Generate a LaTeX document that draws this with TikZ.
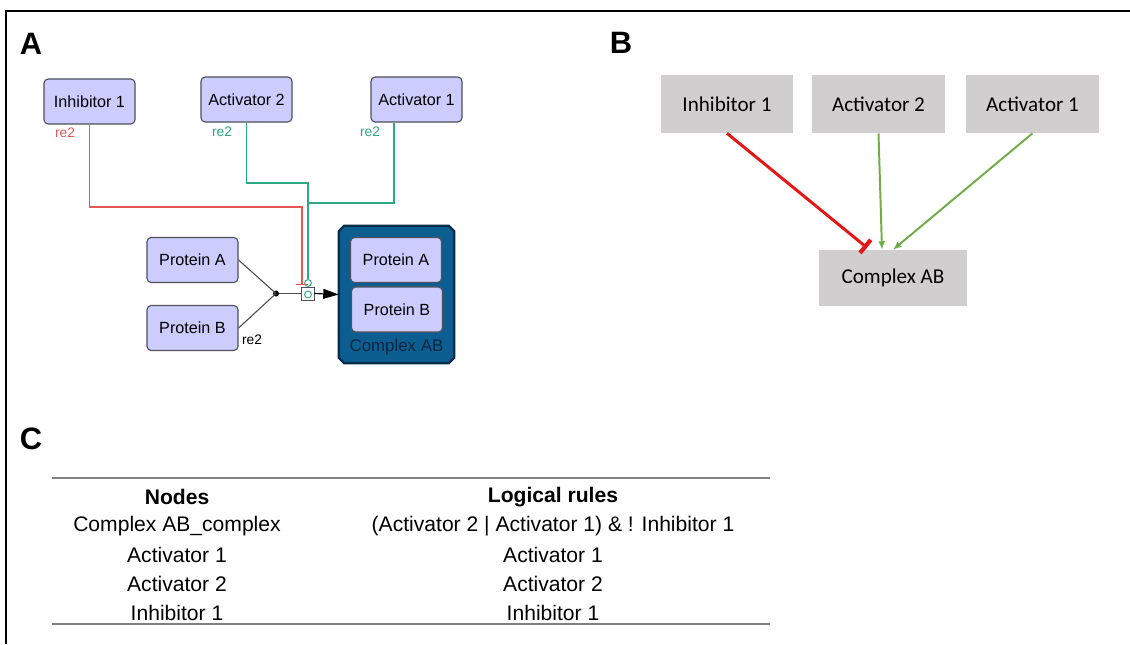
\documentclass[tikz,border=0pt]{standalone}
\usepackage{fontspec}
\setmainfont{Liberation Sans}
\newfontfamily\calibrifont{Carlito}
\usetikzlibrary{arrows.meta,positioning}
\definecolor{SpeciesFill}{RGB}{204,204,255}
\definecolor{SpeciesLine}{RGB}{80,80,92}
\definecolor{ComplexFill}{RGB}{12,94,145}
\definecolor{ComplexLine}{RGB}{6,44,74}
\definecolor{ComplexText}{RGB}{10,38,66}
\definecolor{InhRed}{RGB}{226,86,86}
\definecolor{ActTeal}{RGB}{44,168,130}
\definecolor{BoxGray}{RGB}{208,206,206}
\definecolor{EdgeRed}{RGB}{228,22,22}
\definecolor{EdgeGreen}{RGB}{112,173,71}
\definecolor{RuleGray}{RGB}{128,128,128}
\tikzset{
  species/.style={draw=SpeciesLine,fill=SpeciesFill,rounded corners=3pt,
    line width=0.8pt,minimum width=2.275cm,minimum height=1.125cm,
    inner sep=0pt,font=\fontsize{11.5}{13}\selectfont},
  complexbox/.style={inner sep=0pt,minimum width=2.875cm,minimum height=3.425cm},
  complexshape/.style={draw=ComplexLine,fill=ComplexFill,line width=1.6pt},
  relabel/.style={font=\fontsize{9.8}{11}\selectfont,inner sep=0pt},
  inhline/.style={InhRed,line width=0.8pt},
  actline/.style={ActTeal,line width=0.8pt},
  modcircle/.style={circle,draw=ActTeal,line width=0.7pt,inner sep=0pt,
    minimum size=0.17cm},
  graybox/.style={fill=BoxGray,minimum width=3.3cm,minimum height=1.45cm,
    inner sep=0pt,font=\calibrifont\fontsize{15}{18}\selectfont},
  inhedge/.style={EdgeRed,line width=2.1pt,-{Bar[width=12pt,line width=3pt]}},
  actedge/.style={EdgeGreen,line width=1.4pt,-{Latex[length=6pt,width=5pt]}},
  panel/.style={font=\fontsize{22}{24}\selectfont\bfseries,inner sep=0pt},
  tabtext/.style={font=\fontsize{15}{17}\selectfont,inner sep=0pt},
  tablerule/.style={RuleGray,line width=1.4pt}
}

\begin{document}
\begin{tikzpicture}[x=0.025cm,y=-0.025cm]
  \useasboundingbox (0,0) rectangle (1130,644);
  \coordinate (frameb) at (6,644);
  \coordinate (framec) at (6,11);
  \coordinate (framer) at (1130,11);
  \draw[line width=2.1pt] (frameb) -- (framec) -- (framer);

  % panel A
  \node[panel] (labA) at (31,44) {A};
  \node[species] (inh1) at (89.5,101.5) {Inhibitor 1};
  \node[species] (act2) at (246.5,99.5) {Activator 2};
  \node[species] (act1) at (416.5,99.5) {Activator 1};
  \node[relabel,InhRed] (re2i) at (65,133) {re2};
  \node[relabel,ActTeal] (re2a2) at (222,132) {re2};
  \node[relabel,ActTeal] (re2a1) at (370,132) {re2};

  \node[species] (protA) at (192.5,260) {Protein A};
  \node[species] (protB) at (192.5,328) {Protein B};
  \node[relabel] (re2b) at (252,340) {re2};

  \node[complexbox] (cab) at (396.5,294.5) {};
  \draw[complexshape] ([xshift=4pt]cab.north west) -- ([xshift=-4pt]cab.north east)
    -- ([yshift=-4pt]cab.north east) -- ([yshift=4pt]cab.south east)
    -- ([xshift=-4pt]cab.south east) -- ([xshift=4pt]cab.south west)
    -- ([yshift=4pt]cab.south west) -- ([yshift=-4pt]cab.north west) -- cycle;
  \node[species] (cabA) at (396,260) {Protein A};
  \node[species] (cabB) at (397,309.5) {Protein B};
  \node[font=\fontsize{12}{14}\selectfont,text=ComplexText,inner sep=0pt]
    (cabname) at (396.5,347) {Complex AB};

  \node[circle,fill=black,inner sep=0pt,minimum size=0.15cm] (join) at (276,293.5) {};
  \node[draw=SpeciesLine,fill=white,line width=0.7pt,inner sep=0pt,
        minimum size=0.325cm] (proc) at (307.5,293.5) {};
  \node[modcircle] (catin) at (308,294.5) {};
  \node[modcircle,fill=white] (catup) at (308,283) {};

  \draw[line width=0.8pt,SpeciesLine] (protA.east) -- (join.center);
  \draw[line width=0.8pt,SpeciesLine] (protB.east) -- (join.center);
  \draw[line width=0.8pt,SpeciesLine] (join) -- (proc.west);
  \draw[line width=0.8pt,-{Triangle[length=11pt,width=7pt]}] (proc.east) -- (cab.west);

  \coordinate (redturn) at (302,207);
  \coordinate (bar) at (302,285);
  \draw[inhline,-{Bar[width=8pt,line width=0.8pt]}] (inh1.south) |- (redturn) -- (bar);

  \coordinate (a2turn) at (308,183);
  \coordinate (a1turn) at (308,203);
  \draw[actline] (act2.south) |- (a2turn) -- (catup.north);
  \draw[actline] ([xshift=-0.5625cm]act1.south) |- (a1turn);

  % panel B
  \node[panel] (labB) at (621,43) {B};
  \node[graybox] (inh1B) at (727,104) {Inhibitor 1};
  \node[graybox] (act2B) at (878.5,104) {Activator 2};
  \node[graybox] (act1B) at (1032.5,104) {Activator 1};
  \node[graybox,minimum width=3.7cm,minimum height=1.4cm] (cabB) at (893,278) {Complex AB};

  \draw[inhedge] (inh1B.south) -- ([xshift=-0.65cm,yshift=0.05cm]cabB.north);
  \draw[actedge] (act2B.south) -- ([xshift=-0.275cm]cabB.north);
  \draw[actedge] (act1B.south) -- (cabB.north);

  % panel C
  \node[panel] (labC) at (31,439) {C};
  \coordinate (ruletl) at (52,478);
  \coordinate (ruletr) at (770,478);
  \coordinate (rulebl) at (52,624);
  \coordinate (rulebr) at (770,624);
  \draw[tablerule] (ruletl) -- (ruletr);
  \draw[tablerule] (rulebl) -- (rulebr);

  \node[tabtext,font=\fontsize{15}{17}\selectfont\bfseries] (headN) at (177,497) {Nodes};
  \node[tabtext,font=\fontsize{15}{17}\selectfont\bfseries] (headR) at (553,497) {Logical rules};
  \node[tabtext] (node0) at (177,526) {Complex AB\_complex};
  \node[tabtext] (rule0) at (553,526) {(Activator 2 | Activator 1) \& ! Inhibitor 1};
  \foreach \nm [count=\i] in {Activator 1,Activator 2,Inhibitor 1}{
    \node[tabtext] (node\i) at (177,526+29*\i) {\nm};
    \node[tabtext] (rule\i) at (553,526+29*\i) {\nm};
  }
\end{tikzpicture}
\end{document}
